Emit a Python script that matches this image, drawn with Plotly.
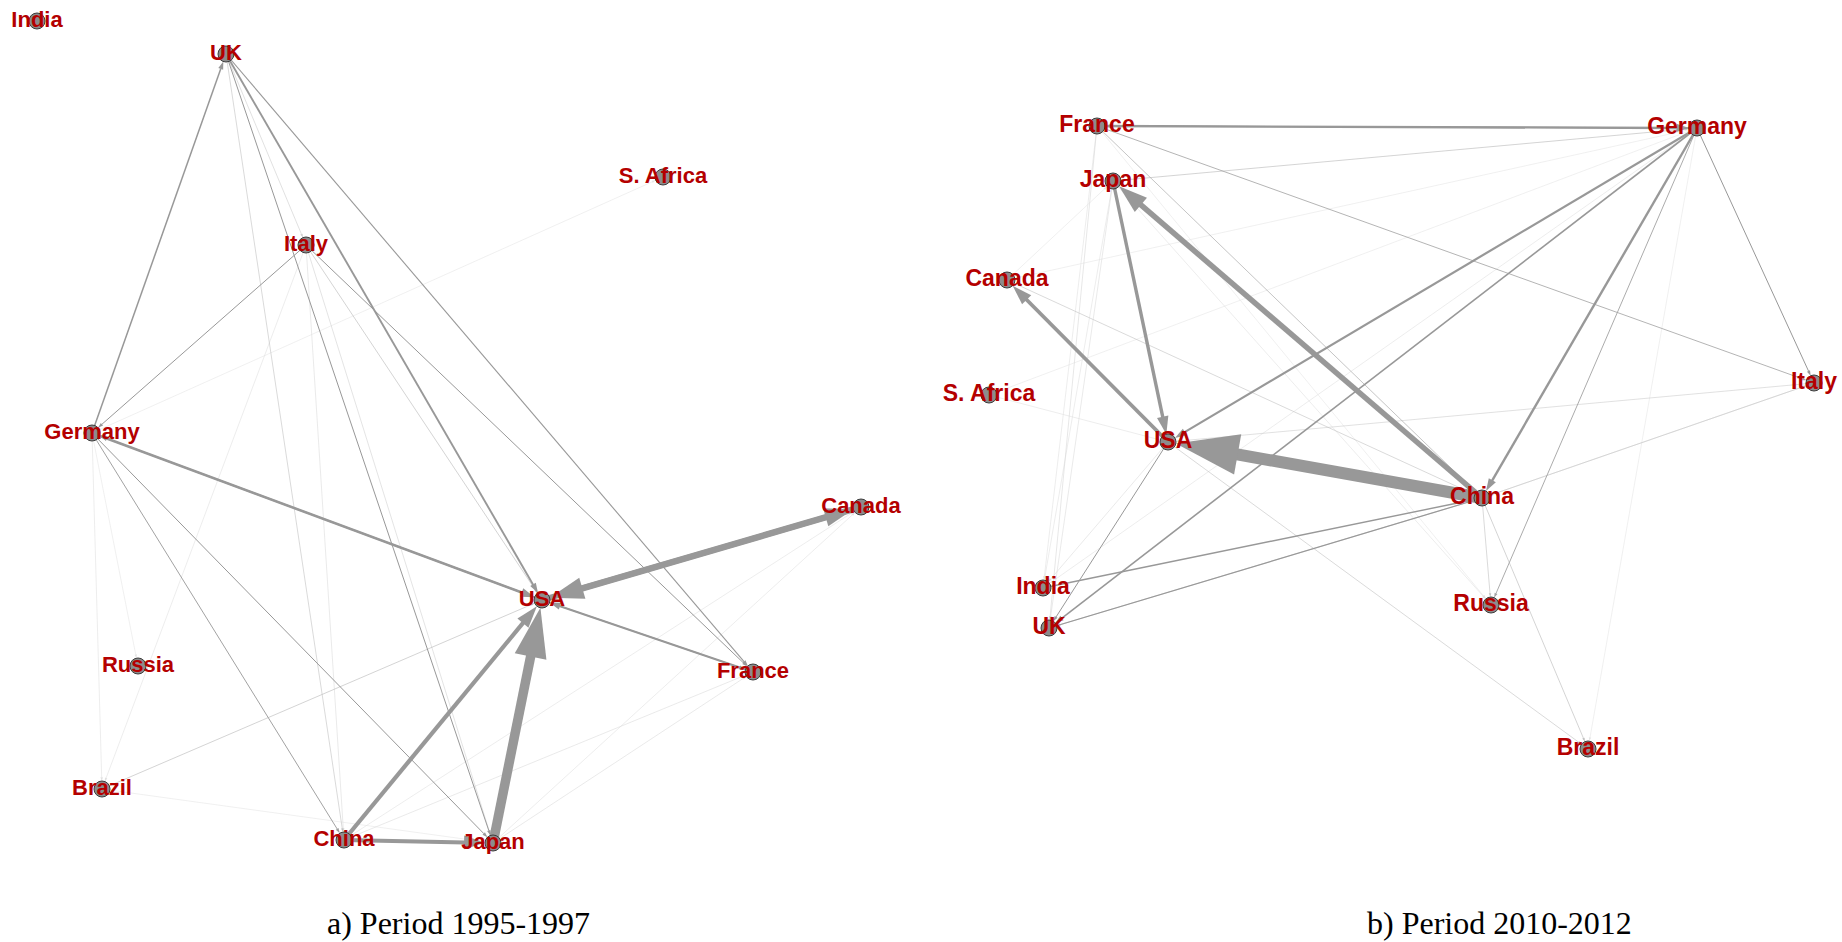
import plotly.graph_objects as go

# ---------------- data ----------------
countries = ["India", "UK", "S. Africa", "Italy", "Germany", "Canada",
             "USA", "Russia", "France", "Brazil", "China", "Japan"]

# layout coordinates of the nodes (panel a: 1995-1997)
x_a = [37, 226, 663, 306, 92, 861, 542, 138, 753, 102, 344, 493]
y_a = [21, 54, 177, 245, 433, 507, 600, 666, 672, 789, 840, 843]

# layout coordinates of the nodes (panel b: 2010-2012)
x_b = [1043, 1049, 989, 1814, 1697, 1007, 1168, 1491, 1097, 1588, 1482, 1113]
y_b = [588, 628, 395, 383, 128, 280, 442, 605, 126, 749, 498, 181]

# directed edges and weights, panel a
src_a = ["Japan", "Canada", "USA", "China", "China", "Germany", "USA", "France", "USA",
         "Germany", "UK", "UK", "UK", "UK", "UK", "Italy", "Italy", "Italy", "Italy",
         "Italy", "Italy", "Germany", "Germany", "Germany", "Germany", "Germany",
         "Brazil", "Brazil", "Japan", "Japan", "China", "China"]
dst_a = ["USA", "USA", "Canada", "USA", "Japan", "USA", "Germany", "USA", "France",
         "UK", "USA", "France", "Japan", "China", "Italy", "Germany", "USA", "France", "China",
         "Japan", "Brazil", "China", "Japan", "Russia", "Brazil", "S. Africa",
         "USA", "Japan", "Canada", "France", "France", "Canada"]
w_a = [9.5, 6.5, 5.5, 4.2, 4.0, 2.6, 1.5, 2.1, 1.2,
       1.5, 1.9, 1.1, 1.0, 0.6, 0.5, 1.0, 0.65, 1.0, 0.35,
       0.45, 0.3, 0.95, 1.0, 0.25, 0.3, 0.25,
       0.65, 0.25, 0.3, 0.35, 0.35, 0.3]

# directed edges and weights, panel b
src_b = ["China", "China", "Japan", "USA", "France", "Germany", "Germany", "Germany",
         "Germany", "Germany", "Germany", "Japan", "Germany", "Germany", "Germany", "Germany",
         "France", "France", "France", "France", "France", "Italy", "China", "Italy",
         "India", "UK", "China", "China", "China", "USA", "USA", "USA", "S. Africa",
         "Canada", "Canada", "Japan", "Japan", "Japan"]
dst_b = ["USA", "Japan", "USA", "Canada", "Germany", "France", "China", "USA",
         "UK", "Italy", "Russia", "Germany", "Canada", "S. Africa", "India", "Brazil",
         "Italy", "China", "Russia", "UK", "India", "USA", "Italy", "China",
         "China", "China", "UK", "Russia", "Brazil", "Brazil", "UK", "India", "USA",
         "China", "Japan", "UK", "India", "Russia"]
w_b = [12.0, 5.5, 3.4, 3.8, 2.4, 1.4, 2.4, 2.2,
       1.6, 1.0, 0.9, 0.65, 0.25, 0.25, 0.3, 0.25,
       0.85, 0.75, 0.25, 0.4, 0.3, 0.5, 0.55, 0.35,
       1.4, 1.2, 0.6, 0.6, 0.65, 0.6, 1.0, 0.35, 0.3,
       0.6, 0.25, 0.35, 0.3, 0.3]

captions = ["a) Period 1995-1997", "b) Period 2010-2012"]

# ---------------- styling helpers ----------------
NODE_R = 8
LABEL_RED = "#B40000"


def edge_color(w):
    a = min(1.0, w)
    g = int(round(255 - (255 - 152) * a))
    return f"rgb({g},{g},{g})"


fig = go.Figure()

panels = [
    (x_a, y_a, src_a, dst_a, w_a, "x", "y", 22),
    (x_b, y_b, src_b, dst_b, w_b, "x2", "y2", 23),
]

for xs, ys, srcs, dsts, ws, xa, ya, fsize in panels:
    pos = {c: (xs[i], ys[i]) for i, c in enumerate(countries)}
    order = sorted(range(len(ws)), key=lambda k: ws[k])
    for k in order:
        s, d, w = srcs[k], dsts[k], ws[k]
        (sx, sy), (dx, dy) = pos[s], pos[d]
        col = edge_color(w)
        lw = max(0.6, w)
        head = max(4.0, 5.5 * lw)
        fig.add_trace(go.Scatter(
            x=[sx, dx], y=[sy, dy], xaxis=xa, yaxis=ya,
            mode="lines+markers",
            line=dict(color=col, width=lw),
            marker=dict(symbol="arrow", size=[0, head], angleref="previous",
                        standoff=NODE_R, color=col, opacity=1,
                        line=dict(width=0)),
            hoverinfo="skip", showlegend=False,
        ))
    fig.add_trace(go.Scatter(
        x=xs, y=ys, xaxis=xa, yaxis=ya, mode="markers",
        marker=dict(size=2 * NODE_R, color="#8c8c8c",
                    line=dict(color="#3c3c3c", width=1)),
        hoverinfo="skip", showlegend=False,
    ))
    fig.add_trace(go.Scatter(
        x=xs, y=ys, xaxis=xa, yaxis=ya, mode="text",
        text=countries, textposition="middle center",
        textfont=dict(family="Liberation Sans, Arial, sans-serif", size=fsize,
                      color=LABEL_RED, weight="bold"),
        cliponaxis=False, hoverinfo="skip", showlegend=False,
    ))

W, H = 1842, 942
axis_common = dict(visible=False, showgrid=False, zeroline=False)
cap_font = dict(family="Liberation Serif, Times New Roman, serif", size=32, color="black")
fig.update_layout(
    width=W, height=H,
    margin=dict(l=0, r=0, t=0, b=0),
    paper_bgcolor="white", plot_bgcolor="white",
    xaxis=dict(domain=[0, 0.5], range=[0, W / 2], **axis_common),
    yaxis=dict(domain=[0, 1], range=[H, 0], **axis_common),
    xaxis2=dict(domain=[0.5, 1], range=[W / 2, W], **axis_common),
    yaxis2=dict(domain=[0, 1], range=[H, 0], anchor="x2", **axis_common),
    annotations=[
        dict(text=captions[0], x=458 / W, y=1 - 923 / H, xref="paper", yref="paper",
             showarrow=False, xanchor="center", yanchor="middle", font=cap_font),
        dict(text=captions[1], x=1499 / W, y=1 - 923 / H, xref="paper", yref="paper",
             showarrow=False, xanchor="center", yanchor="middle", font=cap_font),
    ],
)

fig.write_html(
    "out.html",
    config={"displayModeBar": False},
    post_script="document.body.style.margin='0';document.body.style.overflow='hidden';",
)
